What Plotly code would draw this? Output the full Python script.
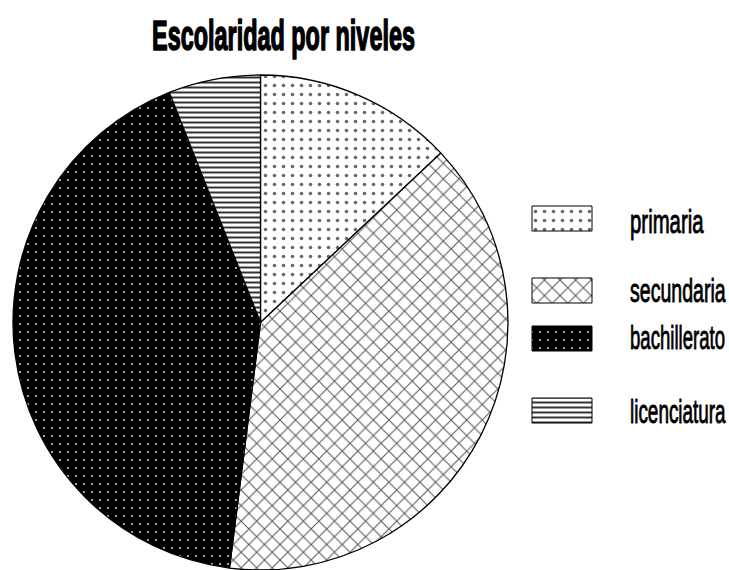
import json
import plotly.graph_objects as go

# Escolaridad por niveles
categorias = ["primaria", "secundaria", "bachillerato", "licenciatura"]
porcentajes = [13, 39, 42, 6]
titulo = "Escolaridad por niveles"

# fill pattern for each level
patrones = dict(
    shape=[".", "x", ".", "-"],
    bgcolor=["white", "white", "black", "white"],
    fgcolor=["#6a6a6a", "#5a5a5a", "#c8c8c8", "#333333"],
    size=[9, 11, 8, 5],
    solidity=[0.13, 0.18, 0.06, 0.4],
    fillmode="replace",
)

W, H = 729, 570
fig = go.Figure()

fig.add_trace(go.Pie(
    labels=categorias,
    values=porcentajes,
    sort=False,
    direction="clockwise",
    rotation=0,
    textinfo="none",
    hoverinfo="label+percent",
    showlegend=False,
    marker=dict(pattern=patrones, line=dict(color="black", width=1.3)),
    domain=dict(x=[13 / W, 508 / W], y=[0, 495 / H]),
))

# legend swatches, drawn on a pixel-aligned hidden axis
sw_top = [206, 278, 326, 398]
txt_mid = [221.5, 290.5, 337.5, 411.5]
fig.add_trace(go.Bar(
    x=[562] * len(categorias),
    y=[25] * len(categorias),
    base=sw_top,
    width=[60] * len(categorias),
    marker=dict(pattern=patrones, line=dict(color="black", width=1)),
    hoverinfo="skip",
    showlegend=False,
))

annotations = [dict(
    text=f"<b>{titulo}</b>", x=150, y=35.5, xref="x", yref="y",
    xanchor="left", yanchor="middle", showarrow=False,
    font=dict(family="Liberation Sans, Arial, sans-serif", size=42, color="black"),
)]
for cat, ym in zip(categorias, txt_mid):
    annotations.append(dict(
        text=cat, x=628, y=ym, xref="x", yref="y",
        xanchor="left", yanchor="middle", showarrow=False,
        font=dict(family="Liberation Sans, Arial, sans-serif", size=33, color="black"),
    ))

fig.update_layout(
    width=W, height=H,
    margin=dict(l=0, r=0, t=0, b=0),
    paper_bgcolor="white", plot_bgcolor="rgba(0,0,0,0)",
    xaxis=dict(range=[0, W], visible=False, fixedrange=True),
    yaxis=dict(range=[H, 0], visible=False, fixedrange=True),
    annotations=annotations,
    bargap=0,
)

# condensed, heavy lettering: squeeze each label to its set width and thicken it
anchos = [263, 74, 96, 95, 96]
trazos = [1.6, 0.9, 0.9, 0.9, 0.9]
post = """
var gd = document.getElementById('{plot_id}');
var widths = %s, strokes = %s;
gd.querySelectorAll('g.annotation').forEach(function(g){
  var i = parseInt(g.getAttribute('data-index'));
  var t = g.querySelector('text.annotation-text');
  if(!t || isNaN(i)) return;
  t.style.stroke = 'black';
  t.style.strokeWidth = strokes[i] + 'px';
  t.style.strokeLinejoin = 'round';
  var b = t.getBBox();
  var s = widths[i] / b.width;
  t.setAttribute('transform', 'translate(' + b.x + ',0) scale(' + s + ',1) translate(' + (-b.x) + ',0)');
});
""" % (json.dumps(anchos), json.dumps(trazos))

fig.write_html("out.html", post_script=post, config={"staticPlot": True})
